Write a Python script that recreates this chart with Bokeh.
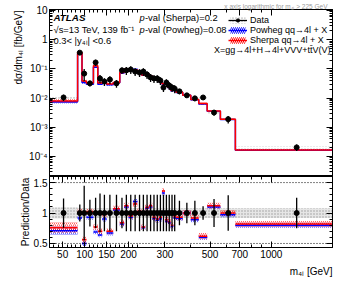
import numpy as np
from bokeh.plotting import figure
from bokeh.layouts import column
from bokeh.models import (Range1d, FixedTicker, CustomJSTickFormatter, Title,
                          Label, Span, LinearAxis, LogAxis, Legend, LegendItem)
from bokeh.embed import file_html
from bokeh.resources import INLINE

# ---------------- data ----------------
bin_edges = [20, 84, 94, 104, 120, 130, 140, 150, 165, 180, 190, 200, 210, 220, 230,
             240, 250, 260, 270, 280, 290, 300, 310, 320, 330, 340, 367, 402, 440, 484,
             562, 666, 2000]
data_xsec = [0.0105, 0.36, 0.069, 0.032, 0.166, 0.047, 0.037, 0.043, 0.032,
             0.089, 0.089, 0.095, 0.081, 0.075, 0.081, 0.064, 0.051, 0.047, 0.047,
             0.040, 0.023, 0.034, 0.027, 0.023, 0.021, 0.017, 0.0124, 0.0098, 0.0105,
             0.0032, 0.0019, 0.000205]
data_rel_err = [0.24, 0.14, 0.45, 0.22, 0.25, 0.32, 0.3, 0.3, 0.3,
                0.25, 0.3, 0.3, 0.3, 0.3, 0.3, 0.3, 0.3, 0.3, 0.3,
                0.3, 0.3, 0.3, 0.3, 0.3, 0.3, 0.2, 0.17, 0.2, 0.11,
                0.23, 0.29, 0.25]
data_sys_rel = [0.09, 0.08, 0.08, 0.08, 0.08, 0.08, 0.08, 0.08, 0.08,
                0.08, 0.08, 0.08, 0.08, 0.08, 0.08, 0.08, 0.08, 0.08, 0.08,
                0.08, 0.08, 0.08, 0.08, 0.08, 0.08, 0.08, 0.08, 0.08, 0.08,
                0.08, 0.08, 0.08]
sherpa_ratio = [0.76, 1.02, 0.56, 1.02, 0.77, 0.70, 0.98, 0.70, 1.07,
                0.84, 1.12, 0.95, 1.15, 1.03, 0.77, 1.09, 1.12, 0.93, 0.90,
                0.93, 1.36, 0.89, 0.86, 0.80, 0.95, 0.93, 1.00, 0.92, 0.62,
                1.12, 1.00, 0.82]
powheg_ratio = [0.71, 0.92, 0.50, 0.93, 0.69, 0.64, 0.90, 0.67, 1.05,
                0.82, 1.10, 0.93, 1.19, 1.00, 0.76, 1.08, 1.10, 0.91, 0.88,
                0.90, 1.33, 0.87, 0.84, 0.78, 0.92, 0.91, 1.00, 0.89, 0.60,
                1.10, 0.97, 0.80]
sherpa_unc = [0.09] + [0.05] * 31
powheg_unc = [0.07] + [0.04] * 31

x_tick_values = [50, 100, 150, 200, 300, 500, 700, 1000]
x_minor_values = [20, 30, 40, 60, 70, 80, 90, 110, 120, 130, 140, 160, 170, 180, 190, 210, 220,
                  400, 600, 800, 900, 2000]

# ---------------- axis transform: linear below 225 GeV, log above ----------------
M_LOW, M_BREAK, M_HIGH = 20.0, 225.0, 2000.0
LIN_PX = 0.4395          # frame px per GeV in the linear part
LOG_PX = 203.5           # frame px per decade in the log part


def u(m):
    m = np.asarray(m, dtype=float)
    lin = (m - M_LOW) * LIN_PX
    lg = (M_BREAK - M_LOW) * LIN_PX + LOG_PX * np.log10(np.maximum(m, 1e-9) / M_BREAK)
    return np.where(m <= M_BREAK, lin, lg)


edges = np.array(bin_edges, dtype=float)
lo, hi = edges[:-1], edges[1:]
ctr = 0.5 * (lo + hi)
d = np.array(data_xsec)
rel = np.array(data_rel_err)
sys_rel = np.array(data_sys_rel)
rs = np.array(sherpa_ratio)
rp = np.array(powheg_ratio)
us = np.array(sherpa_unc)
up = np.array(powheg_unc)

ul, uh, uc = u(lo), u(hi), u(ctr)

RED = "#ff0000"
BLUE = "#0000ff"
GREY = "#9a9a9a"
FONT = "Liberation Sans"
TXT = "9.4px"

x_lo, x_hi = float(u(M_LOW)), float(u(M_HIGH))

blank_fmt = CustomJSTickFormatter(code="return '';")

BL, BR = 49, 13          # left / right borders
W = 345
FH = 167                 # top frame height
TOPB = 9

# ---------------- top panel ----------------
top = figure(width=W, height=TOPB + FH, output_backend="svg", toolbar_location=None,
             x_range=Range1d(x_lo, x_hi), y_range=Range1d(10 ** -4.685, 10 ** 1.034),
             y_axis_type="log", x_axis_location=None, y_axis_location=None,
             min_border_left=BL, min_border_right=BR, min_border_top=TOPB, min_border_bottom=0)
top.outline_line_color = "black"
top.outline_line_width = 1
top.grid.visible = False

log_major = [1e-4, 1e-3, 1e-2, 1e-1, 1.0, 10.0]
log_minor = [k * 10.0 ** e for e in range(-5, 2) for k in range(1, 10)]
fmt = CustomJSTickFormatter(code="""
const e = Math.round(Math.log10(tick));
if (e === 1) return '10';
if (e === 0) return '1';
const sup = {'-':'\\u207b','0':'\\u2070','1':'\\u00b9','2':'\\u00b2','3':'\\u00b3','4':'\\u2074',
             '5':'\\u2075','6':'\\u2076','7':'\\u2077','8':'\\u2078','9':'\\u2079'};
return '10' + String(e).split('').map(c => sup[c]).join('');
""")


def style_axis(ax, labels=True, size="10px"):
    ax.major_tick_in = 6
    ax.major_tick_out = 0
    ax.minor_tick_in = 3
    ax.minor_tick_out = 0
    ax.axis_line_color = "black"
    ax.major_tick_line_color = "black"
    ax.minor_tick_line_color = "black"
    ax.major_label_standoff = 2 if labels else 0
    ax.major_label_text_font = FONT
    ax.major_label_text_color = "black"
    ax.major_label_text_font_size = size if labels else "1px"
    if not labels:
        ax.formatter = blank_fmt
    ax.axis_label_text_font = FONT
    ax.axis_label_text_color = "black"
    ax.axis_label_text_font_style = "normal"
    ax.axis_label_text_font_size = "10px"


def side_title(text, align, size="10px", color="black", standoff=0, offset=0):
    return Title(text=text, align=align, text_font=FONT, text_font_size=size,
                 text_font_style="normal", text_color=color, standoff=standoff, offset=offset)


ly = LogAxis(ticker=FixedTicker(ticks=log_major, minor_ticks=log_minor), formatter=fmt)
style_axis(ly)
top.add_layout(ly, "left")
top.add_layout(side_title("d\u03c3/dm\u2084\u2097 [fb/GeV]", "right", standoff=5, offset=1), "left")
ry = LogAxis(ticker=FixedTicker(ticks=log_major, minor_ticks=log_minor))
style_axis(ry, labels=False)
top.add_layout(ry, "right")

xt_major = [float(v) for v in u(x_tick_values)]
xt_minor = [float(v) for v in u(x_minor_values)]
tx = LinearAxis(ticker=FixedTicker(ticks=xt_major, minor_ticks=xt_minor))
style_axis(tx, labels=False)
top.add_layout(tx, "above")
top.add_layout(side_title("x axis logarithmic for m\u2084\u2097 > 225 GeV", "right", size="6.5px",
                          color="#9c9c9c", offset=5), "above")

# data systematic band (grey hatch)
r_ds = top.quad(left=ul, right=uh, bottom=d * (1 - sys_rel), top=d * (1 + sys_rel),
                fill_alpha=0, line_alpha=0, hatch_pattern="dot", hatch_color=GREY,
                hatch_scale=3, hatch_weight=1)
# prediction bands
r_pb = top.quad(left=ul, right=uh, bottom=d * (rp - up), top=d * (rp + up),
                fill_alpha=0, line_alpha=0, hatch_pattern="/", hatch_color=BLUE,
                hatch_scale=4, hatch_weight=1)
r_sb = top.quad(left=ul, right=uh, bottom=d * (rs - us), top=d * (rs + us),
                fill_alpha=0, line_alpha=0, hatch_pattern="/", hatch_color=RED,
                hatch_scale=4, hatch_weight=1)
step_x = np.append(ul, uh[-1])
r_pl = top.step(step_x, np.append(d * rp, d[-1] * rp[-1]), mode="after", line_color=BLUE, line_width=1.5)
r_sl = top.step(step_x, np.append(d * rs, d[-1] * rs[-1]), mode="after", line_color=RED, line_width=1.5)
r_err = top.segment(x0=uc, x1=uc, y0=d * (1 - rel), y1=d * (1 + rel), line_color="black", line_width=1.3)
r_pt = top.scatter(uc, d, size=5, color="black", marker="circle")


def add_text(fig, x, y, text, size=TXT, style="normal", color="black", align="left"):
    fig.add_layout(Label(x=x, y=y, x_units="screen", y_units="screen", text=text,
                         text_font=FONT, text_font_size=size, text_font_style=style,
                         text_color=color, text_align=align, text_baseline="middle"))


add_text(top, 4, FH - 8, "ATLAS", size="9.8px", style="bold italic")
add_text(top, 4, FH - 20, "\u221as=13 TeV, 139 fb\u207b\u00b9")
add_text(top, 4, FH - 31, "0.3< |y\u2084\u2097| <0.6")
add_text(top, 90, FH - 8, "p", style="italic")
add_text(top, 95.5, FH - 8, "-val (Sherpa)=0.2")
add_text(top, 90, FH - 20, "p", style="italic")
add_text(top, 95.5, FH - 20, "-val (Powheg)=0.08")
add_text(top, 281, FH - 40, "X=gg\u21924l+H\u21924l+VVV+tt\u0304V(V)", size="9px", align="right")

legend = Legend(items=[
    LegendItem(label="Data", renderers=[r_ds, r_err, r_pt]),
    LegendItem(label="Powheg qq\u21924l + X", renderers=[r_pb, r_pl]),
    LegendItem(label="Sherpa qq\u21924l + X", renderers=[r_sb, r_sl]),
], location=(179, FH - 36))
legend.background_fill_alpha = 0
legend.border_line_alpha = 0
legend.padding = 0
legend.margin = 0
legend.spacing = 0
legend.glyph_width = 19
legend.glyph_height = 8
legend.label_height = 10
legend.label_standoff = 3
legend.label_text_font = FONT
legend.label_text_color = "black"
legend.label_text_font_size = "9px"
top.add_layout(legend, "center")

# ---------------- ratio panel ----------------
bot = figure(width=W, height=110, output_backend="svg", toolbar_location=None,
             x_range=top.x_range, y_range=Range1d(0.4336, 1.6),
             x_axis_location=None, y_axis_location=None,
             min_border_left=BL, min_border_right=BR, min_border_top=0, min_border_bottom=39)
bot.outline_line_color = "black"
bot.grid.visible = False

ry_major = [0.5, 1.0, 1.5]
ry_minor = [round(0.4 + 0.1 * i, 2) for i in range(13)]
by = LinearAxis(ticker=FixedTicker(ticks=ry_major, minor_ticks=ry_minor),
                axis_label="Prediction/Data")
style_axis(by)
by.major_label_overrides = {0.5: "0.5", 1.0: "1", 1.5: "1.5"}
by.axis_label_standoff = 0
bot.add_layout(by, "left")
bry = LinearAxis(ticker=FixedTicker(ticks=ry_major, minor_ticks=ry_minor))
style_axis(bry, labels=False)
bot.add_layout(bry, "right")
btx = LinearAxis(ticker=FixedTicker(ticks=xt_major, minor_ticks=xt_minor))
style_axis(btx, labels=False)
bot.add_layout(btx, "above")
bx = LinearAxis(ticker=FixedTicker(ticks=xt_major, minor_ticks=xt_minor))
style_axis(bx)
bx.major_label_overrides = {float(k): str(v) for k, v in zip(u(x_tick_values), x_tick_values)}
bot.add_layout(bx, "below")
bot.add_layout(side_title("m\u2084\u2097 [GeV]", "right", standoff=6), "below")

for yv in (0.5, 1.5):
    bot.add_layout(Span(location=yv, dimension="width", line_color="black",
                        line_dash="1 2", line_width=1))

bot.quad(left=ul, right=uh, bottom=1 - sys_rel, top=1 + sys_rel,
         fill_color=GREY, fill_alpha=0.25, line_alpha=0, hatch_pattern="dot",
         hatch_color=GREY, hatch_scale=3)
bot.quad(left=ul, right=uh, bottom=rp - up, top=rp + up, fill_alpha=0, line_alpha=0,
         hatch_pattern="/", hatch_color=BLUE, hatch_scale=4, hatch_alpha=0.6)
bot.quad(left=ul, right=uh, bottom=rs - us, top=rs + us, fill_alpha=0, line_alpha=0,
         hatch_pattern="/", hatch_color=RED, hatch_scale=4, hatch_alpha=0.6)
bot.segment(x0=ul, x1=uh, y0=rp, y1=rp, line_color=BLUE, line_width=1.5)
bot.segment(x0=ul, x1=uh, y0=rs, y1=rs, line_color=RED, line_width=1.5)
bot.segment(x0=uc, x1=uc, y0=1 - rel, y1=1 + rel, line_color="black", line_width=1.3)
bot.scatter(uc, np.ones_like(uc), size=5, color="black", marker="circle")

p = column(top, bot, spacing=0)
open("out.html", "w").write(file_html(p, INLINE))
